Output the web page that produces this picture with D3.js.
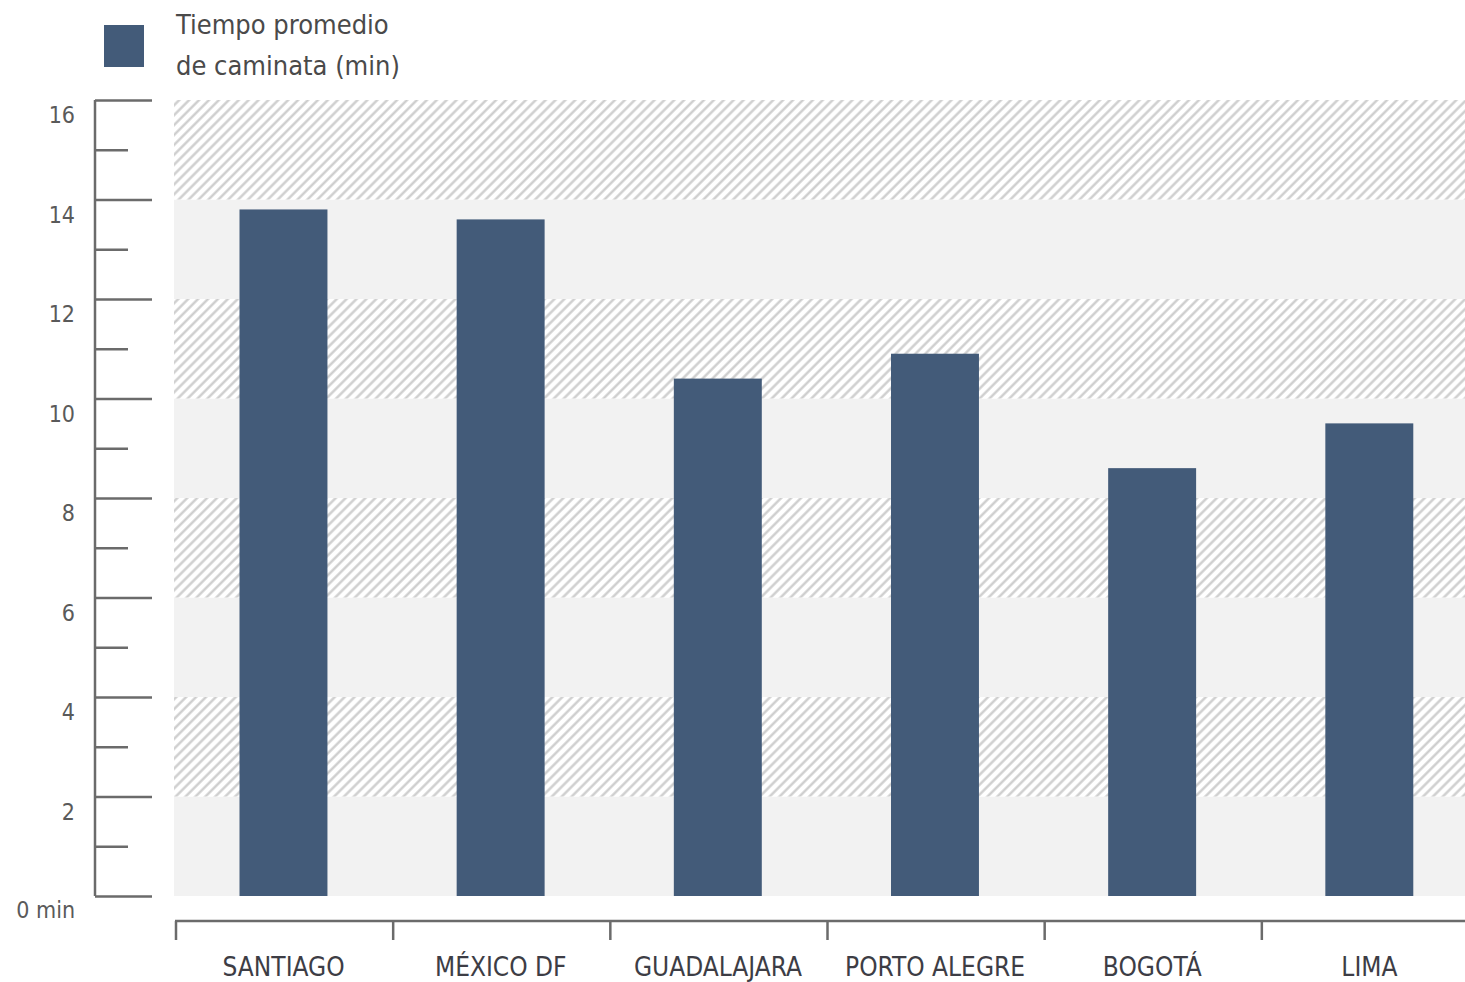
<!DOCTYPE html>
<html>
<head>
<meta charset="utf-8">
<script src="https://cdn.jsdelivr.net/npm/d3@7"></script>
<style>
  html, body { margin: 0; padding: 0; background: #fff; }
  svg { display: block; }
  .cond { font-family: "Liberation Sans Narrow", "DejaVu Sans Condensed", "Liberation Sans", sans-serif; }
</style>
</head>
<body>
<svg id="chart" width="1465" height="982"></svg>
<script>
// Average walking time per city (minutes)
const cities = ["SANTIAGO", "MÉXICO DF", "GUADALAJARA", "PORTO ALEGRE", "BOGOTÁ", "LIMA"];
const walkMinutes = [13.8, 13.6, 10.4, 10.9, 8.6, 9.5];
const yMajorTicks = [0, 2, 4, 6, 8, 10, 12, 14, 16];
const yMinorTicks = [1, 3, 5, 7, 9, 11, 13, 15];
const legendLines = ["Tiempo promedio", "de caminata (min)"];

const svg = d3.select("#chart");
const barColor = "#435b79";
const axisColor = "#6b6b6b";

const y = d3.scaleLinear().domain([0, 16]).range([896, 100]);
const x = d3.scaleBand().domain(cities).range([175, 1478]).paddingInner(0).paddingOuter(0);

// Diagonal hatch for alternating bands
const defs = svg.append("defs");
const pat = defs.append("pattern")
  .attr("id", "hatch")
  .attr("patternUnits", "userSpaceOnUse")
  .attr("width", 7).attr("height", 7)
  .attr("patternTransform", "rotate(45)");
pat.append("rect").attr("width", 7).attr("height", 7).attr("fill", "#ffffff");
pat.append("line").attr("x1", 1.5).attr("y1", 0).attr("x2", 1.5).attr("y2", 7)
  .attr("stroke", "#cbcbcb").attr("stroke-width", 2.3);

// Background bands, one per 2-minute step
const bands = d3.range(0, 16, 2);
svg.append("g").selectAll("rect").data(bands).join("rect")
  .attr("x", 174)
  .attr("width", 1465 - 174)
  .attr("y", d => y(d + 2))
  .attr("height", d => y(d) - y(d + 2))
  .attr("fill", d => (d / 2) % 2 === 0 ? "#f2f2f2" : "url(#hatch)");

// Bars
svg.append("g").selectAll("rect").data(cities).join("rect")
  .attr("x", (c) => x(c) + x.bandwidth() * 0.297)
  .attr("width", x.bandwidth() * 0.405)
  .attr("y", (c, i) => y(walkMinutes[i]))
  .attr("height", (c, i) => y(0) - y(walkMinutes[i]))
  .attr("fill", barColor);

// Y axis: vertical rule with long major and short minor ticks
const yAxisG = svg.append("g").attr("transform", "translate(95,0)");
yAxisG.call(d3.axisRight(y).tickValues(yMajorTicks).tickSize(57).tickFormat(""))
  .call(g => g.select(".domain").remove());
yAxisG.append("g").call(d3.axisRight(y).tickValues(yMinorTicks).tickSize(33).tickFormat(""))
  .call(g => g.select(".domain").remove());
yAxisG.append("line").attr("x1", 0).attr("x2", 0).attr("y1", y(16)).attr("y2", y(0));
yAxisG.selectAll("line").attr("stroke", axisColor).attr("stroke-width", 2.5);

// Y tick labels
svg.append("g").selectAll("text").data(yMajorTicks.filter(d => d > 0)).join("text")
  .attr("class", "cond")
  .attr("x", 75)
  .attr("y", d => y(d) + 23)
  .attr("text-anchor", "end")
  .attr("font-size", 23)
  .attr("fill", "#5a5a5a")
  .text(d => d);
svg.append("text").attr("class", "cond")
  .attr("x", 75).attr("y", 918)
  .attr("text-anchor", "end")
  .attr("font-size", 23)
  .attr("fill", "#5a5a5a")
  .text("0 min");

// X axis: horizontal rule with category separators
const xAxisG = svg.append("g").attr("transform", "translate(0,921)");
const sepPositions = cities.map(c => x(c));
xAxisG.append("line").attr("x1", 175).attr("x2", 1465).attr("y1", 0).attr("y2", 0);
xAxisG.selectAll("line.sep").data(sepPositions).join("line")
  .attr("class", "sep")
  .attr("x1", d => d + 1).attr("x2", d => d + 1)
  .attr("y1", 0).attr("y2", 19);
xAxisG.selectAll("line").attr("stroke", axisColor).attr("stroke-width", 2.5);

svg.append("g").selectAll("text").data(cities).join("text")
  .attr("class", "cond")
  .attr("x", c => x(c) + x.bandwidth() / 2)
  .attr("y", 976)
  .attr("text-anchor", "middle")
  .attr("font-size", 26)
  .attr("fill", "#3d3d45")
  .text(c => c);

// Legend
svg.append("rect").attr("x", 104).attr("y", 25).attr("width", 40).attr("height", 42).attr("fill", barColor);
svg.append("g").selectAll("text").data(legendLines).join("text")
  .attr("class", "cond")
  .attr("x", 176)
  .attr("y", (d, i) => 34 + i * 41)
  .attr("font-size", 27)
  .attr("fill", "#4a4a4a")
  .text(d => d);
</script>
</body>
</html>
